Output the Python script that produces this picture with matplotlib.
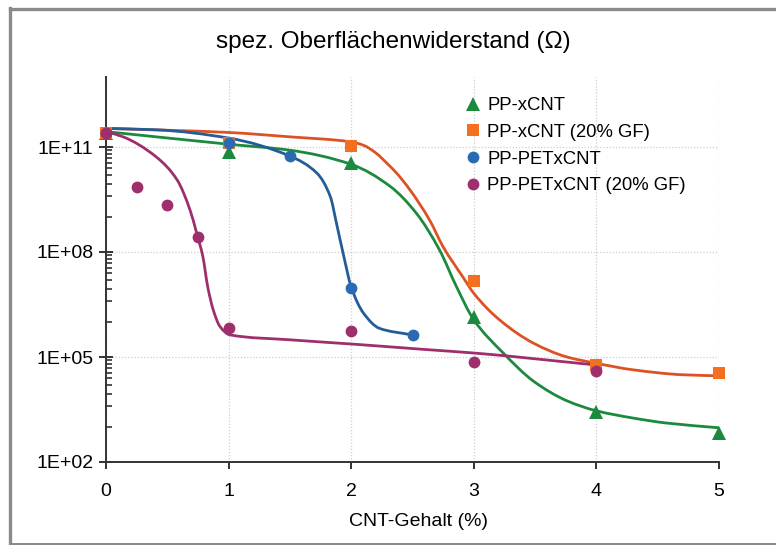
import numpy as np
import matplotlib.pyplot as plt
from matplotlib.path import Path
from matplotlib.patches import PathPatch
from matplotlib.lines import Line2D
from matplotlib.ticker import FixedLocator, FuncFormatter, NullFormatter

plt.rcParams['font.family'] = ['Liberation Sans', 'DejaVu Sans']

# Messwerte: spez. Oberflächenwiderstand in Ohm über CNT-Gehalt in %
pp_x = [0, 1, 2, 3, 4, 5]
pp_y = [2.5e11, 7.0e10, 3.5e10, 1.35e6, 2.6e3, 6.9e2]

ppgf_x = [0, 1, 2, 3, 4, 5]
ppgf_y = [2.5e11, 1.3e11, 1.1e11, 1.5e7, 5.9e4, 3.6e4]

pet_x = [0, 1, 1.5, 2, 2.5]
pet_y = [2.5e11, 1.3e11, 5.5e10, 9.5e6, 4.3e5]

petgf_x = [0, 0.25, 0.5, 0.75, 1, 2, 3, 4]
petgf_y = [2.5e11, 7.0e9, 2.2e9, 2.6e8, 6.6e5, 5.5e5, 7.4e4, 4.1e4]

# Stützpunkte der Ausgleichskurven
pp_fit_x = [0, 1.0, 1.5, 2.0, 2.32, 2.53, 2.72, 2.86, 3.0, 3.24, 3.49, 3.76, 4.0,
            4.3, 4.57, 5.0]
pp_fit_y = [2.75e11, 1.2e11, 8.1e10, 3.2e10, 7.4e9, 1.3e9, 1.15e8, 1.0e7, 1.15e6,
            1.3e5, 2.0e4, 5.6e3, 2.9e3, 1.8e3, 1.3e3, 9.5e2]

ppgf_fit_x = [0, 1.0, 1.5, 2.0, 2.1, 2.2, 2.3, 2.37, 2.48, 2.64, 2.75, 2.91, 3.0,
              3.21, 3.49, 3.76, 4.0, 4.3, 4.71, 5.0]
ppgf_fit_y = [3.4e11, 2.6e11, 1.95e11, 1.4e11, 1.12e11, 6.8e10, 3.2e10, 1.8e10, 5.9e9,
              8.1e8, 1.4e8, 1.95e7, 6.6e6, 1.15e6, 2.45e5, 1.0e5, 6.6e4, 4.3e4, 3.1e4,
              2.9e4]

pet_fit_x = [0, 0.41, 1.0, 1.5, 1.72, 1.83, 1.88, 1.94, 2.0, 2.1, 2.23, 2.49]
pet_fit_y = [3.4e11, 3.1e11, 1.8e11, 5.5e10, 1.8e10, 3.8e9, 6.6e8, 7.4e7, 1.0e7,
             1.8e6, 6.6e5, 4.3e5]

petgf_fit_x = [0, 0.14, 0.41, 0.58, 0.685, 0.74, 0.79, 0.83, 0.875, 0.93, 1.01,
               1.5, 2.04, 2.59, 3.0, 4.0]
petgf_fit_y = [2.75e11, 1.95e11, 5.2e10, 1.15e10, 1.6e9, 3.4e8, 7.4e7, 1.0e7, 2.2e6,
               7.4e5, 4.3e5, 3.1e5, 2.3e5, 1.65e5, 1.3e5, 5.9e4]

labels = ['PP-xCNT', 'PP-xCNT (20% GF)', 'PP-PETxCNT', 'PP-PETxCNT (20% GF)']
marker_colors = ['#1b8a3e', '#f37021', '#2a6ab3', '#9e2f6c']
line_colors = ['#1b8a3e', '#dd5225', '#235c97', '#9e2f6c']
markers = ['^', 's', 'o', 'o']
marker_sizes = [9.5, 8, 8.5, 8.5]


def smooth_path(xs, ys):
    # monotone kubische Kurve in (x, log10 y), als Bezier-Pfad
    x = np.asarray(xs, float)
    y = np.log10(ys)
    h = np.diff(x)
    d = np.diff(y) / h
    m = np.zeros_like(x)
    m[0], m[-1] = d[0], d[-1]
    for i in range(1, len(x) - 1):
        if d[i - 1] * d[i] > 0:
            m[i] = 3 * (h[i - 1] + h[i]) / ((2 * h[i] + h[i - 1]) / d[i - 1]
                                            + (h[i] + 2 * h[i - 1]) / d[i])
    verts = [(x[0], y[0])]
    codes = [Path.MOVETO]
    for i in range(len(x) - 1):
        verts += [(x[i] + h[i] / 3, y[i] + m[i] * h[i] / 3),
                  (x[i + 1] - h[i] / 3, y[i + 1] - m[i + 1] * h[i] / 3),
                  (x[i + 1], y[i + 1])]
        codes += [Path.CURVE4] * 3
    verts = np.array(verts)
    verts[:, 1] = 10 ** verts[:, 1]
    return Path(verts, codes)


fig = plt.figure(figsize=(7.76, 5.45), dpi=100)
ax = fig.add_axes([106 / 776, 1 - 462 / 545, 613 / 776, 385 / 545])
ax.set_yscale('log')
ax.set_xlim(0, 5)
ax.set_ylim(1e2, 1e13)

fits = [(pp_fit_x, pp_fit_y), (ppgf_fit_x, ppgf_fit_y),
        (pet_fit_x, pet_fit_y), (petgf_fit_x, petgf_fit_y)]
for (fx, fy), c in zip(fits, line_colors):
    ax.add_patch(PathPatch(smooth_path(fx, fy), fill=False, edgecolor=c,
                           lw=2.0, capstyle='round', joinstyle='round', zorder=3))

series = [(pp_x, pp_y), (ppgf_x, ppgf_y), (pet_x, pet_y), (petgf_x, petgf_y)]
for (sx, sy), lab, c, m, ms in zip(series, labels, marker_colors, markers, marker_sizes):
    ax.plot(sx, sy, linestyle='none', marker=m, ms=ms, color=c,
            markeredgewidth=0, label=lab, zorder=4, clip_on=False)

# Achsen
for s in ['top', 'right']:
    ax.spines[s].set_visible(False)
for s in ['left', 'bottom']:
    ax.spines[s].set_color('#333333')
    ax.spines[s].set_linewidth(1.4)

major = [1e2, 1e5, 1e8, 1e11]
minor = [hi * (k / 10) ** 2 for hi in major[1:] for k in range(1, 10)]
ax.yaxis.set_major_locator(FixedLocator(major))
ax.yaxis.set_minor_locator(FixedLocator(minor))
ax.yaxis.set_major_formatter(FuncFormatter(lambda v, p: '1E+%02d' % round(np.log10(v))))
ax.yaxis.set_minor_formatter(NullFormatter())
ax.set_xticks([0, 1, 2, 3, 4, 5])

ax.tick_params(axis='y', which='major', direction='inout', length=10, width=1.4,
               color='#333333', labelsize=14, pad=4)
ax.tick_params(axis='y', which='minor', direction='in', length=4.5, width=1.2,
               color='#333333')
ax.tick_params(axis='x', which='major', direction='out', length=5, width=1.4,
               color='#333333', labelsize=14, pad=10)

ax.grid(True, which='major', linestyle=(0, (1, 1.5)), color='#cfcfcf', lw=0.9)
ax.set_axisbelow(True)

ax.set_xlabel('CNT-Gehalt (%)', fontsize=14, labelpad=9.5)
ax.xaxis.label.set_x((419 - 106) / 613)
fig.text(393 / 776, 1 - 42 / 545, 'spez. Oberflächenwiderstand (Ω)', fontsize=17.5,
         ha='center', va='center')

leg = ax.legend(loc='upper left', bbox_to_anchor=(467 / 776, 1 - 97 / 545),
                bbox_transform=fig.transFigure, frameon=False, fontsize=13.3,
                handlelength=0.6, handletextpad=0.5, labelspacing=0.53,
                borderpad=0, borderaxespad=0)

# grauer Rahmen ums Diagramm
frame = '#8a8a8a'
fig.add_artist(Line2D([10 / 776, 1], [1 - 9 / 545, 1 - 9 / 545], color=frame, lw=2.4,
                      transform=fig.transFigure))
fig.add_artist(Line2D([10 / 776, 10 / 776], [1 - 8 / 545, 0], color=frame, lw=2.4,
                      transform=fig.transFigure))
fig.add_artist(Line2D([10 / 776, 1], [1 / 545, 1 / 545], color=frame, lw=1.4,
                      transform=fig.transFigure))

fig.savefig('out.png', dpi=100)
